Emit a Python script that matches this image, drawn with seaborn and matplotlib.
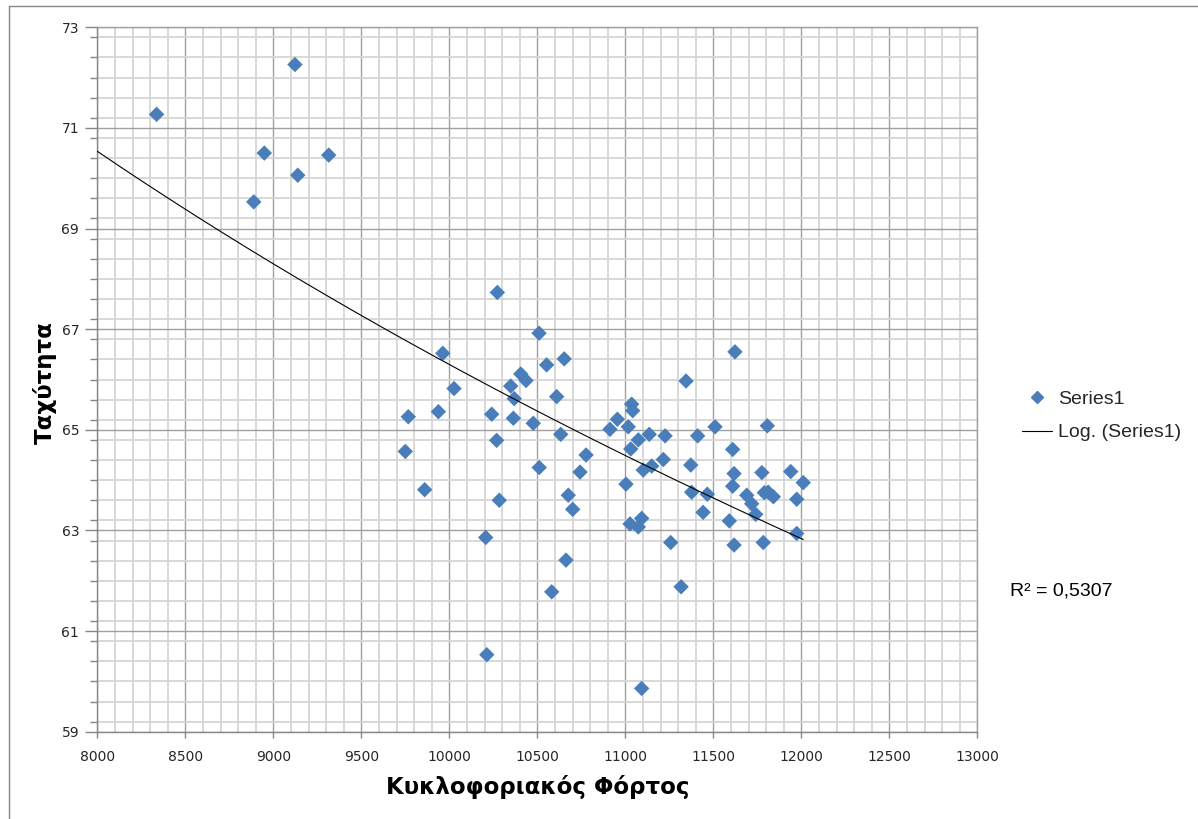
import numpy as np
import matplotlib
matplotlib.use("Agg")
import matplotlib.pyplot as plt
import seaborn as sns
from matplotlib.ticker import MultipleLocator
from matplotlib.lines import Line2D

# Traffic load (x) and speed (y)
traffic = [8337, 9123, 8949, 9315, 9139, 8889,
           10273, 10510, 9963, 10653, 10553, 10406, 10436, 10349, 10027, 10369,
           10610, 9767, 9938, 10241, 10364, 10477, 10633, 10269, 9750, 10777,
           10511, 10743, 9860, 10284, 10676, 10701, 10207, 10663, 10582, 10213,
           11623, 11345, 11036, 11042, 10955, 10913, 11017, 11136, 11226, 11074,
           11031, 11411, 11510, 11807, 11610, 11216, 11150, 11102, 11372, 11004,
           11618, 11776, 11940, 12011, 11610, 11377, 11466, 11690, 11790, 11812,
           11841, 11974, 11718, 11442, 11741, 11591, 11027, 11074, 11093, 11974,
           11258, 11618, 11784, 11317, 11093]
speed = [71.27, 72.26, 70.50, 70.46, 70.06, 69.53,
         67.73, 66.92, 66.52, 66.41, 66.29, 66.11, 65.98, 65.87, 65.82, 65.62,
         65.66, 65.26, 65.36, 65.31, 65.23, 65.13, 64.91, 64.79, 64.57, 64.50,
         64.25, 64.16, 63.81, 63.60, 63.70, 63.42, 62.86, 62.41, 61.78, 60.53,
         66.55, 65.97, 65.51, 65.38, 65.21, 65.01, 65.06, 64.91, 64.88, 64.80,
         64.62, 64.88, 65.06, 65.08, 64.61, 64.41, 64.28, 64.20, 64.30, 63.92,
         64.13, 64.15, 64.17, 63.95, 63.88, 63.76, 63.72, 63.70, 63.75, 63.76,
         63.67, 63.62, 63.53, 63.36, 63.32, 63.19, 63.13, 63.07, 63.24, 62.94,
         62.76, 62.71, 62.76, 61.88, 59.86]

x_ticks = list(range(8000, 13001, 500))
y_ticks = list(range(59, 74, 2))
series_labels = ["Series1", "Log. (Series1)"]
r2_label = "R\u00b2 = 0,5307"
x_title = "Κυκλοφοριακός Φόρτος"
y_title = "Ταχύτητα"

sns.set_theme(style="white")
plt.rcParams["font.family"] = ["DejaVu Sans"]

W, H = 1198, 819
fig = plt.figure(figsize=(W / 100, H / 100), dpi=100)
fig.patch.set_facecolor("white")
L, R, T, B = 97.3, 977.3, 27.3, 731.7
ax = fig.add_axes([L / W, 1 - B / H, (R - L) / W, (B - T) / H])

blue = "#4A7EBB"
sns.scatterplot(x=traffic, y=speed, marker="D", s=62, color=blue,
                edgecolor="none", linewidth=0, ax=ax, zorder=3, legend=False)

# logarithmic trend line
a, b = np.polyfit(np.log(traffic), speed, 1)
xs = np.linspace(8000, max(traffic), 300)
ax.plot(xs, a * np.log(xs) + b, color="black", lw=0.8, zorder=4)

ax.set_xlim(8000, 13000)
ax.set_ylim(59, 73)
ax.set_xticks(x_ticks)
ax.set_yticks(y_ticks)
ax.xaxis.set_minor_locator(MultipleLocator(100))
ax.yaxis.set_minor_locator(MultipleLocator(0.4))
ax.set_axisbelow(True)
ax.grid(which="minor", color="#D6D6D6", lw=1.3)
ax.grid(which="major", color="#A0A0A0", lw=1.0)
for side in ["top", "right"]:
    ax.spines[side].set_color("#A0A0A0")
    ax.spines[side].set_linewidth(1.0)
for side in ["left", "bottom"]:
    ax.spines[side].set_color("#868686")
    ax.spines[side].set_linewidth(1.0)

ax.tick_params(axis="y", which="major", direction="out", length=9, width=1,
               color="#868686", labelsize=10, pad=4, labelcolor="#262626", left=True)
ax.tick_params(axis="y", which="minor", direction="out", length=5, width=1,
               color="#868686", left=True)
ax.tick_params(axis="x", which="major", direction="out", length=4, width=1,
               color="#868686", labelsize=10, pad=9, labelcolor="#262626", bottom=True)
ax.tick_params(axis="x", which="minor", length=0)

ax.set_xlabel(x_title, fontsize=16.5, fontweight="bold", color="black")
ax.xaxis.set_label_coords(0.5, (B - 787) / (B - T))
ax.xaxis.label.set_va("center")
ax.set_ylabel(y_title, fontsize=16.5, fontweight="bold", color="black")
ax.yaxis.set_label_coords((45 - L) / (R - L), 0.5 - (383 - (T + B) / 2) / (B - T))
ax.yaxis.label.set_va("center")

handles = [Line2D([], [], marker="D", ls="none", color=blue, markersize=6),
           Line2D([], [], color="black", lw=0.8)]
fig.legend(handles, series_labels, loc="center left",
           bbox_to_anchor=(1022 / W, 1 - 416 / H), frameon=False,
           prop={"family": "Liberation Sans", "size": 14},
           handlelength=1.55, handletextpad=0.3, borderpad=0, borderaxespad=0,
           labelspacing=0.8)
fig.text(1010 / W, 1 - 591 / H, r2_label, fontsize=14, family="Liberation Sans",
         va="center", ha="left", color="black")

# chart-area border (left and top edges visible)
fig.add_artist(Line2D([9 / W, 9 / W], [0, 1 - 6 / H], transform=fig.transFigure,
                      color="#868686", lw=1))
fig.add_artist(Line2D([9 / W, 1], [1 - 6 / H, 1 - 6 / H], transform=fig.transFigure,
                      color="#868686", lw=1))

fig.savefig("out.png", dpi=100)
